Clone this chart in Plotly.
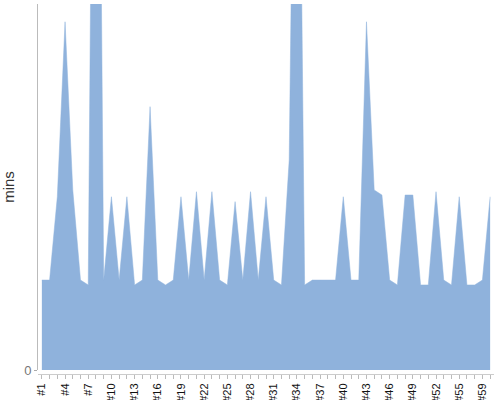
import plotly.graph_objects as go

categories = ["#1", "#2", "#3", "#4", "#5", "#6", "#7", "#8", "#9", "#10",
              "#11", "#12", "#13", "#14", "#15", "#16", "#17", "#18", "#19", "#20",
              "#21", "#22", "#23", "#24", "#25", "#26", "#27", "#28", "#29", "#30",
              "#31", "#32", "#33", "#34", "#35", "#36", "#37", "#38", "#39", "#40",
              "#41", "#42", "#43", "#44", "#45", "#46", "#47", "#48", "#49", "#50",
              "#51", "#52", "#53", "#54", "#55", "#56", "#58", "#59", "#60"]

mins = [5.16, 5.16, 9.94, 19.98, 10.33, 5.16, 4.88, 60.5, 5.16, 9.94,
        5.16, 9.94, 4.88, 5.16, 15.11, 5.16, 4.88, 5.16, 9.94, 5.16,
        10.23, 5.16, 10.23, 5.16, 4.88, 9.66, 5.16, 10.23, 5.16, 9.94,
        5.16, 4.88, 12.05, 48.8, 4.88, 5.16, 5.16, 5.16, 5.16, 9.94,
        5.16, 5.16, 19.98, 10.33, 10.04, 5.16, 4.88, 10.04, 10.04, 4.88,
        4.88, 10.23, 5.16, 4.88, 9.94, 4.88, 4.88, 5.16, 9.94]

tick_labels = ["#1", "#4", "#7", "#10", "#13", "#16", "#19", "#22", "#25", "#28",
               "#31", "#34", "#37", "#40", "#43", "#46", "#49", "#52", "#55", "#59"]

ticktext = [c if c in tick_labels else "" for c in categories]

fig = go.Figure()
fig.add_trace(go.Scatter(
    x=categories, y=mins, mode="lines", fill="tozeroy",
    line=dict(color="rgb(143,178,220)", width=0.5),
    fillcolor="rgb(143,178,220)", hoverinfo="x+y",
))

fig.update_layout(
    width=500, height=400,
    margin=dict(l=38, r=6, t=4, b=26, autoexpand=False),
    plot_bgcolor="white", paper_bgcolor="white",
    showlegend=False,
    font=dict(family="Liberation Sans, Arial, sans-serif"),
    xaxis=dict(
        type="category", range=[-0.5, 58.5],
        anchor="free", position=0,
        tickmode="array", tickvals=categories, ticktext=ticktext,
        tickangle=-90, ticks="outside", ticklen=4, tickcolor="#bbbbbb",
        showline=True, linecolor="#cccccc", linewidth=1,
        showgrid=False, zeroline=False,
        tickfont=dict(size=11, color="#111111"),
    ),
    yaxis=dict(
        domain=[0.0108, 1], range=[0, 21],
        tickmode="array", tickvals=[0], ticktext=["0"],
        ticks="outside", ticklen=3, tickcolor="#aaaaaa",
        showline=True, linecolor="#bbbbbb", linewidth=1,
        showgrid=False, zeroline=False,
        tickfont=dict(size=13, color="#777777"),
        title=dict(text="mins", font=dict(size=15, color="#333333"), standoff=9),
    ),
)

fig.write_html("out.html", config={"displayModeBar": False},
               post_script="document.body.style.margin='0';document.body.style.overflow='hidden';")
